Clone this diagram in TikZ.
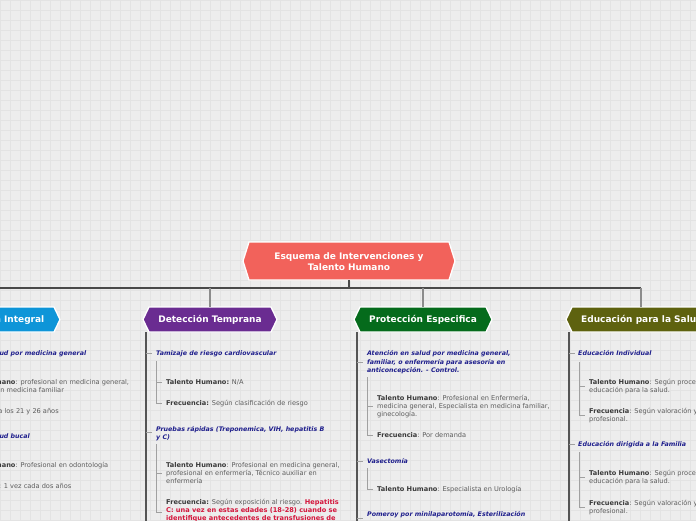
\documentclass[tikz,border=0pt]{standalone}
\usepackage{fontspec}
\setmainfont{DejaVu Sans}
\definecolor{bg}{HTML}{EDEDED}
\definecolor{gridc}{HTML}{E3E3E3}
\definecolor{rootc}{HTML}{F2625B}
\definecolor{bluec}{HTML}{0E95D8}
\definecolor{purc}{HTML}{6A2C91}
\definecolor{grnc}{HTML}{056B1C}
\definecolor{olvc}{HTML}{5E620F}
\definecolor{hdrc}{HTML}{1E1E8C}
\definecolor{lblc}{HTML}{3A3A3A}
\definecolor{bodc}{HTML}{5C5C5C}
\definecolor{redc}{HTML}{D4163C}
\definecolor{busc}{HTML}{4A4A4A}
\definecolor{dropc}{HTML}{8C8C8C}
\definecolor{mainc}{HTML}{555555}
\definecolor{subc}{HTML}{A0A0A0}
\newcommand\hexbox[5]{\path[fill=#5,draw=white,line width=1.3pt] (#1,{(#3+#4)/2}) -- ({#1+6},#3) -- ({#2-6},#3) -- (#2,{(#3+#4)/2}) -- ({#2-6},#4) -- ({#1+6},#4) -- cycle;}
\newcommand\lb[1]{\textcolor{lblc}{\textbf{#1}}}
\tikzset{
  hdr/.style={anchor=north west, yshift=3.6pt, inner sep=0pt, align=left, font=\fontsize{6.3}{8.5}\selectfont\bfseries\itshape, text=hdrc},
  bod/.style={anchor=north west, yshift=3.4pt, inner sep=0pt, align=left, font=\fontsize{6.6}{8}\selectfont, text=bodc},
  ttl/.style={text=white, font=\fontsize{9}{10.7}\selectfont\bfseries, align=center, inner sep=0pt},
  bus/.style={draw=busc, line width=1.2pt},
  drop/.style={draw=dropc, line width=1.3pt},
  mainl/.style={draw=mainc, line width=1.3pt},
  subl/.style={draw=subc, line width=0.9pt},
}
\begin{document}
\begin{tikzpicture}[x=1pt,y=-1pt]
\useasboundingbox (0,0) rectangle (696,520);
\clip (0,0) rectangle (696,520);
\fill[bg] (0,0) rectangle (696,520);
\foreach \i in {0,10,...,690} \draw[gridc, line width=0.5pt] (\i,0) -- (\i,520);
\foreach \j in {0,10,...,520} \draw[gridc, line width=0.5pt] (0,\j) -- (696,\j);

% root
\hexbox{243}{455}{242}{280}{rootc}
\node[ttl] (root) at (349,261.5) {Esquema de Intervenciones y\\Talento Humano};
\coordinate (rootb) at (349,280);
\coordinate (j) at (349,288);

% branch boxes
\hexbox{-68}{60}{307}{332}{bluec}
\node[ttl, anchor=east] (vi) at (44.5,320) {Valoración Integral};
\hexbox{143}{277}{307}{332}{purc}
\node[ttl] (dt) at (210,320) {Detección Temprana};
\hexbox{354}{492}{307}{332}{grnc}
\node[ttl] (pe) at (423,320) {Protección Especifica};
\hexbox{566}{716}{307}{332}{olvc}
\node[ttl, anchor=west] (es) at (581,320) {Educación para la Salud};
\coordinate (viT) at (-4,307);
\coordinate (dtT) at (210,307);
\coordinate (peT) at (423,307);
\coordinate (esT) at (641,307);

% connectors
\draw[bus] (rootb) -- (j);
\draw[bus] (viT |- j) -- (esT |- j);
\draw[drop] (viT |- j) -- (viT);
\draw[drop] (dtT |- j) -- (dtT);
\draw[drop] (peT |- j) -- (peT);
\draw[drop] (esT |- j) -- (esT);

% ---------- Valoración Integral ----------
\coordinate (viM) at (-65,332);
\draw[mainl] (viM) -- (-65,530);
\node[hdr] (vi1) at (-55,353) {\strut Atención en salud por medicina general};
\node[bod] (vi1a) at (-45,382) {\strut\lb{Talento Humano}: profesional en medicina general,\\especialista en medicina familiar};
\node[bod] (vi1b) at (-47,411) {\strut\lb{Frecuencia}: a los 21 y 26 años};
\node[hdr] (vi2) at (-55,436) {\strut Atención en salud bucal};
\node[bod] (vi2a) at (-45,465) {\strut\lb{Talento Humano}: Profesional en odontología};
\node[bod] (vi2b) at (-41.5,486) {\strut\lb{Frecuencia}: 1 vez cada dos años};
\draw[subl] (-65,353) -- (-59,353);
\draw[subl] (-55,361) -- (-55,411) -- (-49,411);
\draw[subl] (-55,386) -- (-49,386);
\draw[subl] (-65,436) -- (-59,436);
\draw[subl] (-55,445) -- (-55,486) -- (-49,486);
\draw[subl] (-55,465) -- (-49,465);

% ---------- Detección Temprana ----------
\coordinate (dtM) at (146,332);
\draw[mainl] (dtM) -- (146,530);
\node[hdr] (dt1) at (156,353) {\strut Tamizaje de riesgo cardiovascular};
\node[bod] (dt1a) at (166,382) {\strut\lb{Talento Humano:} N/A};
\node[bod] (dt1b) at (166,403) {\strut\lb{Frecuencia:} Según clasificación de riesgo};
\node[hdr] (dt2) at (156,428.5) {\strut Pruebas rápidas (Treponemica, VIH, hepatitis B\\y C)};
\node[bod] (dt2a) at (166,465.5) {\strut\lb{Talento Humano}: Profesional en medicina general,\\profesional en enfermería, Técnico auxiliar en\\enfermería};
\node[bod] (dt2b) at (166,502) {\strut\lb{Frecuencia:} Según exposición al riesgo. \textcolor{redc}{\textbf{Hepatitis}}\\\textcolor{redc}{\textbf{C: una vez en estas edades (18-28) cuando se}}\\\textcolor{redc}{\textbf{identifique antecedentes de transfusiones de}}};
\draw[subl] (146,353) -- (152,353);
\draw[subl] (156,361) -- (156,403) -- (162,403);
\draw[subl] (156,382) -- (162,382);
\draw[subl] (146,432) -- (152,432);
\draw[subl] (156,444) -- (156,512) -- (162,512);
\draw[subl] (156,473) -- (162,473);

% ---------- Protección Especifica ----------
\coordinate (peM) at (357,332);
\draw[mainl] (peM) -- (357,530);
\node[hdr] (pe1) at (367,353) {\strut Atención en salud por medicina general,\\familiar, o enfermería para asesoría en\\anticoncepción. - Control.};
\node[bod] (pe1a) at (377,398.5) {\strut\lb{Talento Humano}: Profesional en Enfermería,\\medicina general, Especialista en medicina familiar,\\ginecología.};
\node[bod] (pe1b) at (377,435) {\strut\lb{Frecuencia}: Por demanda};
\node[hdr] (pe2) at (367,461) {\strut Vasectomía};
\node[bod] (pe2a) at (377,489) {\strut\lb{Talento Humano}: Especialista en Urología};
\node[hdr] (pe3) at (367,514) {\strut Pomeroy por minilaparotomía, Esterilización};
\draw[subl] (357,362) -- (363,362);
\draw[subl] (367,377) -- (367,435) -- (373,435);
\draw[subl] (367,406) -- (373,406);
\draw[subl] (357,461) -- (363,461);
\draw[subl] (367,468) -- (367,489) -- (373,489);
\draw[subl] (357,518) -- (363,518);

% ---------- Educación para la Salud ----------
\coordinate (esM) at (569,332);
\draw[mainl] (esM) -- (569,530);
\node[hdr] (es1) at (578,353) {\strut Educación Individual};
\node[bod] (es1a) at (589,382) {\strut\lb{Talento Humano}: Según procedimiento de\\educación para la salud.};
\node[bod] (es1b) at (589,411) {\strut\lb{Frecuencia}: Según valoración y criterio del\\profesional.};
\node[hdr] (es2) at (578,444) {\strut Educación dirigida a la Familia};
\node[bod] (es2a) at (589,473.5) {\strut\lb{Talento Humano}: Según procedimiento de\\educación para la salud.};
\node[bod] (es2b) at (589,503) {\strut\lb{Frecuencia}: Según valoración y criterio del\\profesional.};
\draw[subl] (569,353) -- (575,353);
\draw[subl] (579,362) -- (579,415) -- (585,415);
\draw[subl] (579,386) -- (585,386);
\draw[subl] (569,444) -- (575,444);
\draw[subl] (579,452) -- (579,507) -- (585,507);
\draw[subl] (579,477) -- (585,477);
\end{tikzpicture}
\end{document}
